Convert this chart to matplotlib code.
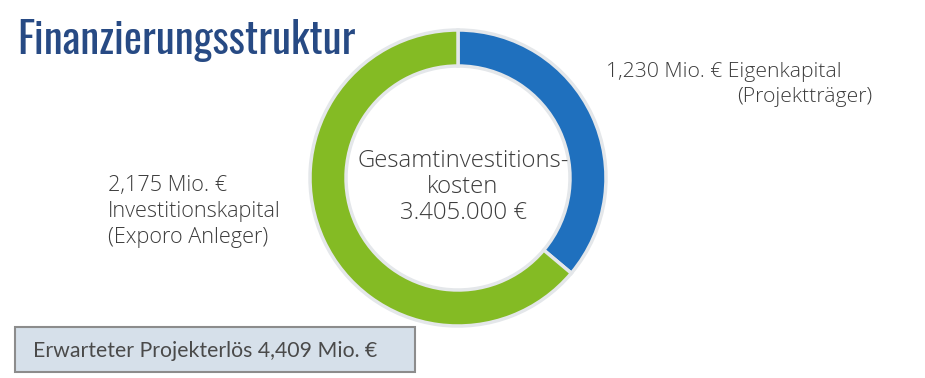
import matplotlib.pyplot as plt
from matplotlib.patches import Rectangle

# Daten
werte = [1230, 2175]
farben = ['#1f70be', '#84bb24']
label_eigen = ['1,230 Mio. € Eigenkapital', '(Projektträger)']
label_invest = ['2,175 Mio. €', 'Investitionskapital', '(Exporo Anleger)']
mitte_text = 'Gesamtinvestitions-\nkosten\n3.405.000 €'
titel = 'Finanzierungsstruktur'
erloes = 'Erwarteter Projekterlös 4,409 Mio. €'

W, H = 925, 378
fig = plt.figure(figsize=(W / 100, H / 100), dpi=100)
ax = fig.add_axes([0, 0, 1, 1])

ax.pie(werte, colors=farben, startangle=90, counterclock=False,
       radius=148, center=(458, H - 178),
       wedgeprops=dict(width=36, edgecolor='#e4e7ea', linewidth=2.5))

ax.set_xlim(0, W)
ax.set_ylim(0, H)
ax.set_aspect('equal')
ax.axis('off')

txt = '#3c3c3c'
ax.text(17, H - 40, titel, fontsize=31, color='#274a84',
        family=['Oswald', 'Barlow Condensed', 'DejaVu Sans'], va='center', ha='left')

ax.text(463, H - 187, mitte_text, fontsize=17.2, color=txt, family='Open Sans',
        fontweight='light', ha='center', va='center', linespacing=1.1)

ax.text(606, H - 72, label_eigen[0], fontsize=15.2, color=txt, family='Open Sans',
        fontweight='light', ha='left', va='center')
ax.text(872, H - 97, label_eigen[1], fontsize=15.2, color=txt, family='Open Sans',
        fontweight='light', ha='right', va='center')

for i, s in enumerate(label_invest):
    ax.text(108, H - 185 - 26 * i, s, fontsize=15.6, color=txt, family='Open Sans',
            fontweight='light', ha='left', va='center')

ax.add_patch(Rectangle((15, H - 372), 400, 45, facecolor='#d6e0ea',
                       edgecolor='#8c8c8c', linewidth=1.5))
ax.text(33, H - 351, erloes, fontsize=15.3, color='#4a4a4a', family='Lato',
        ha='left', va='center')

fig.savefig('out.png', dpi=100)
